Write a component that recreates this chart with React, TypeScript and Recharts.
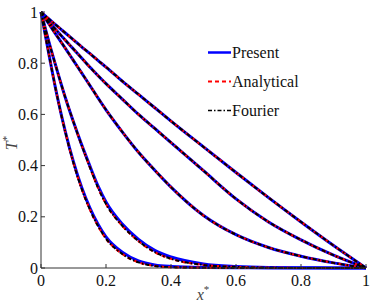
import { LineChart, Line, XAxis, YAxis, Legend } from "recharts";

// x* positions shared by all profiles
const xs = [0, 0.025, 0.05, 0.075, 0.1, 0.125, 0.15, 0.175, 0.2, 0.25, 0.3, 0.35, 0.4, 0.5, 0.6, 0.7, 0.8, 0.9, 1];

// T* profiles, from the flattest (latest time) to the steepest (earliest)
const analytical1 = [1, 0.972, 0.945, 0.918, 0.891, 0.864, 0.838, 0.811, 0.785, 0.73, 0.678, 0.626, 0.574, 0.473, 0.373, 0.275, 0.18, 0.088, 0];
const analytical2 = [1, 0.96, 0.925, 0.89, 0.855, 0.82, 0.785, 0.752, 0.72, 0.66, 0.6, 0.545, 0.49, 0.38, 0.27, 0.18, 0.11, 0.05, 0];
const analytical3 = [1, 0.952, 0.905, 0.858, 0.81, 0.762, 0.714, 0.665, 0.618, 0.532, 0.452, 0.382, 0.316, 0.205, 0.13, 0.08, 0.046, 0.02, 0];
const analytical4 = [1, 0.88, 0.77, 0.665, 0.57, 0.48, 0.395, 0.315, 0.25, 0.165, 0.105, 0.062, 0.036, 0.012, 0.004, 0.001, 0, 0, 0];
const analytical5 = [1, 0.83, 0.67, 0.53, 0.41, 0.31, 0.23, 0.165, 0.115, 0.055, 0.022, 0.008, 0.003, 0.001, 0, 0, 0, 0, 0];

// present solution sits a touch above in the tails of the early profiles
const present4 = [1, 0.88, 0.77, 0.665, 0.57, 0.482, 0.4, 0.322, 0.258, 0.172, 0.112, 0.069, 0.043, 0.016, 0.006, 0.002, 0.001, 0, 0];
const present5 = [1, 0.83, 0.67, 0.532, 0.414, 0.315, 0.236, 0.172, 0.122, 0.062, 0.028, 0.012, 0.006, 0.002, 0.001, 0, 0, 0, 0];

const present = [analytical1, analytical2, analytical3, present4, present5];
const analytical = [analytical1, analytical2, analytical3, analytical4, analytical5];
const fourier = [analytical1, analytical2, analytical3, analytical4, analytical5];

const xTicks = [0, 0.2, 0.4, 0.6, 0.8, 1];
const yTicks = [0, 0.2, 0.4, 0.6, 0.8, 1];
const legendNames = ["Present", "Analytical", "Fourier"];

const data = xs.map((x, i) => {
  const row: Record<string, number> = { x };
  present.forEach((s, k) => (row[`p${k}`] = s[i]));
  analytical.forEach((s, k) => (row[`a${k}`] = s[i]));
  fourier.forEach((s, k) => (row[`f${k}`] = s[i]));
  return row;
});

const FONT = "Liberation Serif, Times New Roman, Times, DejaVu Serif, Noto Serif, serif";
const AXIS = "#333";

const BottomTick = (p: any) => (
  <g>
    <line x1={p.x} x2={p.x} y1={p.y} y2={p.y - 4} stroke={AXIS} />
    <text x={p.x} y={p.y + 18} textAnchor="middle" fontSize={16} style={{ fontFamily: FONT }} fill="#111">
      {String(p.payload.value)}
    </text>
  </g>
);

const LeftTick = (p: any) => (
  <g>
    <line x1={p.x} x2={p.x + 4} y1={p.y} y2={p.y} stroke={AXIS} />
    <text x={p.x - 3} y={p.y} dy="0.35em" textAnchor="end" fontSize={16} style={{ fontFamily: FONT }} fill="#111">
      {String(p.payload.value)}
    </text>
  </g>
);

const TopTick = (p: any) => <line x1={p.x} x2={p.x} y1={p.y} y2={p.y + 4} stroke={AXIS} />;
const RightTick = (p: any) => <line x1={p.x} x2={p.x - 4} y1={p.y} y2={p.y} stroke={AXIS} />;

const legendStyles = [
  { stroke: "#0000ff", width: 2.5, dash: undefined },
  { stroke: "#ff0000", width: 2, dash: "4 3" },
  { stroke: "#000000", width: 1.5, dash: "4 2 1.5 2" },
];

const LegendContent = () => (
  <div style={{ fontFamily: FONT, fontSize: 16, color: "#111" }}>
    {legendNames.map((name, i) => (
      <div key={name} style={{ display: "flex", alignItems: "center", height: 29 }}>
        <svg width={25} height={29}>
          <line
            x1={1}
            x2={24}
            y1={14.5}
            y2={14.5}
            stroke={legendStyles[i].stroke}
            strokeWidth={legendStyles[i].width}
            strokeDasharray={legendStyles[i].dash}
          />
        </svg>
        <span>{name}</span>
      </div>
    ))}
  </div>
);

export default function App() {
  return (
    <div style={{ position: "absolute", left: 0, top: 0, background: "#fff" }}>
      <LineChart width={374} height={304} data={data} margin={{ top: 12, right: 8, bottom: 0, left: 0 }}>
        <XAxis
          dataKey="x"
          type="number"
          domain={[0, 1]}
          ticks={xTicks}
          height={36}
          tickLine={false}
          tickSize={0}
          tickMargin={0}
          stroke={AXIS}
          tick={BottomTick}
          label={{
            position: "insideBottom",
            content: () => (
              <text x={203} y={300} textAnchor="middle" style={{ fontFamily: FONT }} fontSize={16} fill="#444">
                <tspan fontStyle="italic">x</tspan>
                <tspan fontSize={11} dy={-7}>*</tspan>
              </text>
            ),
          }}
        />
        <XAxis
          xAxisId="top"
          orientation="top"
          dataKey="x"
          type="number"
          domain={[0, 1]}
          ticks={xTicks}
          height={0}
          tickLine={false}
          tickSize={0}
          tickMargin={0}
          stroke={AXIS}
          tick={TopTick}
        />
        <YAxis
          type="number"
          domain={[0, 1]}
          ticks={yTicks}
          width={41}
          tickLine={false}
          tickSize={0}
          tickMargin={0}
          stroke={AXIS}
          tick={LeftTick}
          label={{
            position: "insideLeft",
            content: () => (
              <text
                x={17}
                y={143}
                textAnchor="middle"
                transform="rotate(-90, 17, 143)"
                style={{ fontFamily: FONT }}
                fontSize={16}
                fill="#444"
              >
                <tspan fontStyle="italic">T</tspan>
                <tspan fontSize={11} dy={-7}>*</tspan>
              </text>
            ),
          }}
        />
        <YAxis
          yAxisId="right"
          orientation="right"
          type="number"
          domain={[0, 1]}
          ticks={yTicks}
          width={0}
          tickLine={false}
          tickSize={0}
          tickMargin={0}
          stroke={AXIS}
          tick={RightTick}
        />
        <Legend
          layout="vertical"
          align="center"
          verticalAlign="middle"
          content={LegendContent}
          wrapperStyle={{ left: 207, top: 38, width: 150, height: 90 }}
        />
        {present.map((_, k) => (
          <Line
            key={`p${k}`}
            dataKey={`p${k}`}
            type="monotone"
            stroke="#0000ff"
            strokeWidth={3}
            dot={false}
            isAnimationActive={false}
            legendType="none"
          />
        ))}
        {analytical.map((_, k) => (
          <Line
            key={`a${k}`}
            dataKey={`a${k}`}
            type="monotone"
            stroke="#ff0000"
            strokeWidth={2.2}
            strokeDasharray="4 3"
            dot={false}
            isAnimationActive={false}
            legendType="none"
          />
        ))}
        {fourier.map((_, k) => (
          <Line
            key={`f${k}`}
            dataKey={`f${k}`}
            type="monotone"
            stroke="#000000"
            strokeWidth={2}
            strokeDasharray="4 2 1.5 2"
            dot={false}
            isAnimationActive={false}
            legendType="none"
          />
        ))}
      </LineChart>
    </div>
  );
}
